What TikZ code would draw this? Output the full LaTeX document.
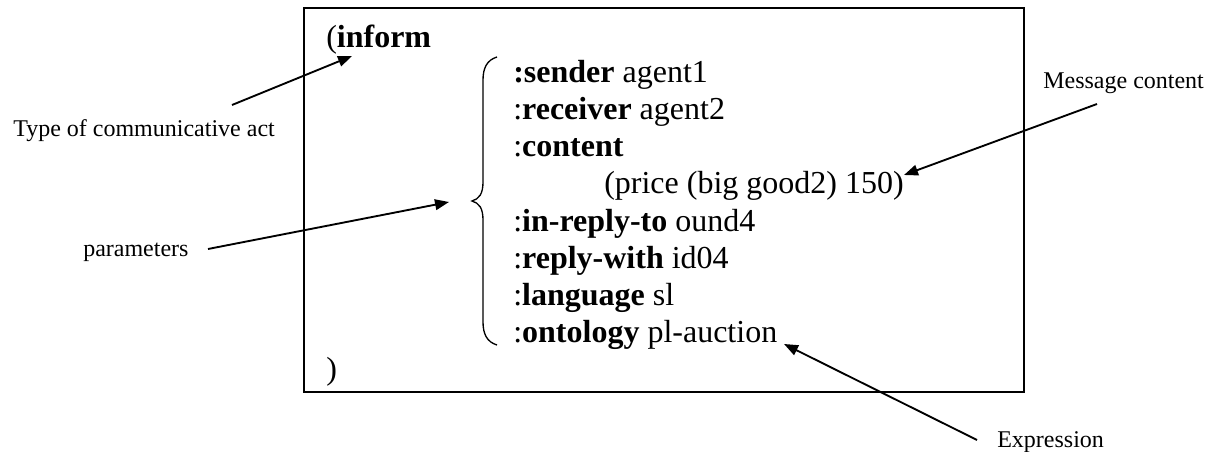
\documentclass[tikz,border=0pt]{standalone}
\usepackage{fontspec}
\setmainfont{Liberation Serif}
\usetikzlibrary{arrows.meta}
\tikzset{
  msgtext/.style={anchor=base west, inner sep=0pt, font=\fontsize{24}{28}\selectfont},
  note/.style={anchor=base west, inner sep=0pt, font=\fontsize{18}{21}\selectfont},
  pointer/.style={line width=1.4pt, -{Triangle[length=10.5pt,width=8pt]}},
  frame/.style={line width=1.5pt},
  bracestyle/.style={line width=1pt},
}
\begin{document}
\begin{tikzpicture}[x=0.75pt,y=-0.75pt]
\useasboundingbox (0,0) rectangle (1219,452);

% message frame
\draw[frame] (304,8) rectangle (1024,392);

% message text
\node[msgtext] (act)   at (326,48)  {(\textbf{inform}};
\node[msgtext] (snd)   at (513,83)  {\textbf{:sender} agent1};
\node[msgtext] (rcv)   at (513,120) {:\textbf{receiver} agent2};
\node[msgtext] (cnt)   at (513,157) {:\textbf{content}};
\node[msgtext] (price) at (604,194) {(price (big good2) 150)};
\node[msgtext] (irt)   at (513,231) {:\textbf{in-reply-to} ound4};
\node[msgtext] (rw)    at (513,268) {:\textbf{reply-with} id04};
\node[msgtext] (lang)  at (513,305) {:\textbf{language} sl};
\node[msgtext] (onto)  at (513,342) {:\textbf{ontology} pl-auction};
\node[msgtext] (close) at (326,379) {)};

% left brace grouping the parameters
\draw[bracestyle] (497,57) .. controls (487,60) and (483,68) .. (483,80)
  -- (483,182) .. controls (483,194) and (479,199) .. (472,201)
  .. controls (479,203) and (483,208) .. (483,220)
  -- (483,322) .. controls (483,334) and (487,342) .. (497,345);

% annotation labels
\node[note] (typelbl)  at (13,137)   {Type of communicative act};
\node[note] (paramlbl) at (83,256)   {parameters};
\node[note] (msglbl)   at (1043,89)  {Message content};
\node[note] (exprlbl)  at (997,447)  {Expression};

% arrow ends
\coordinate (typetail)  at (232,105);
\coordinate (typetip)   at (352,56);
\coordinate (paramtail) at (208,249);
\coordinate (paramtip)  at (449,202);
\coordinate (msgtail)   at (1097,104);
\coordinate (msgtip)    at (904,175);
\coordinate (exprtail)  at (977,440);
\coordinate (exprtip)   at (784,344);

\draw[pointer] (typetail) -- (typetip);
\draw[pointer] (paramtail) -- (paramtip);
\draw[pointer] (msgtail) -- (msgtip);
\draw[pointer] (exprtail) -- (exprtip);
\end{tikzpicture}
\end{document}
